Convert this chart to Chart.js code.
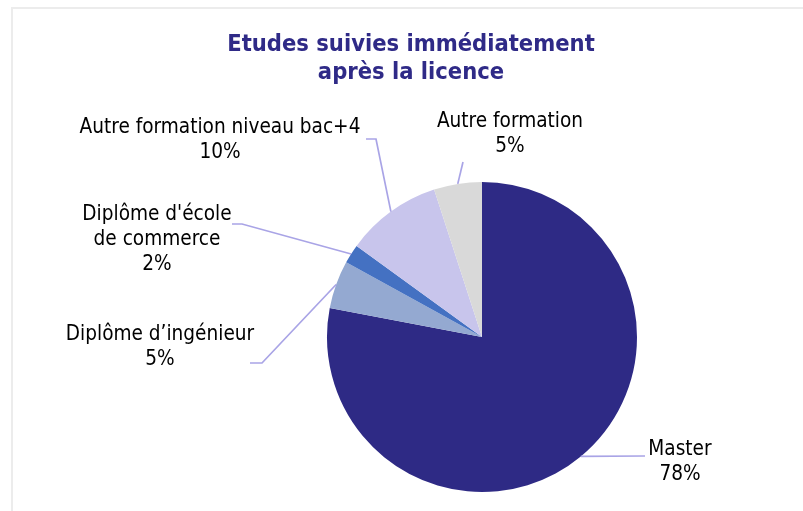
<!DOCTYPE html>
<html lang="fr">
  <head>
    <meta charset="UTF-8" />
    <script src="https://cdn.jsdelivr.net/npm/chart.js"></script>
    <style>
      body {
        margin: 0;
        padding: 0;
        background-color: #ffffff;
      }
      #chart {
        display: block;
      }
    </style>
  </head>
  <body>
    <canvas id="chart" width="803" height="511"></canvas>

    <script>
      const titleLines = ["Etudes suivies immédiatement", "après la licence"];
      const categories = [
        "Master",
        "Diplôme d’ingénieur",
        "Diplôme d'école de commerce",
        "Autre formation niveau bac+4",
        "Autre formation"
      ];
      const shares = [78, 5, 2, 10, 5];
      const sliceColors = ["#2e2a85", "#94a9d1", "#4471c2", "#c8c5ec", "#d9d9d9"];

      // how each label is broken into lines on the chart
      const labelLines = [
        ["Master"],
        ["Diplôme d’ingénieur"],
        ["Diplôme d'école", "de commerce"],
        ["Autre formation niveau bac+4"],
        ["Autre formation"]
      ];

      // label anchor (centre of first line) and leader-line bends
      const labelLayout = [
        { x: 680, y: 450, path: [[645, 456]] },
        { x: 160, y: 335, path: [[262, 363], [250, 363]] },
        { x: 157, y: 215, path: [[242, 224], [232, 224]] },
        { x: 220, y: 128, path: [[376, 139], [366, 139]] },
        { x: 510, y: 122, path: [[463, 162]] }
      ];

      const labelFont = '20.6px "DejaVu Sans Condensed", "DejaVu Sans", sans-serif';
      const titleFont = 'bold 23.5px "DejaVu Sans Condensed", "DejaVu Sans", sans-serif';

      const frameAndLabels = {
        id: "frameAndLabels",
        beforeDraw(chart) {
          const ctx = chart.ctx;
          ctx.save();
          ctx.fillStyle = "#ffffff";
          ctx.fillRect(0, 0, chart.width, chart.height);
          ctx.strokeStyle = "#ececec";
          ctx.lineWidth = 2;
          ctx.beginPath();
          ctx.moveTo(12, chart.height);
          ctx.lineTo(12, 8);
          ctx.lineTo(chart.width, 8);
          ctx.stroke();
          ctx.restore();
        },
        afterDraw(chart) {
          const ctx = chart.ctx;
          const meta = chart.getDatasetMeta(0);
          ctx.save();

          // title
          ctx.fillStyle = "#2f2a87";
          ctx.font = titleFont;
          ctx.textAlign = "center";
          ctx.textBaseline = "middle";
          titleLines.forEach((t, i) => ctx.fillText(t, 411, 45 + i * 28));

          meta.data.forEach((arc, i) => {
            const p = arc.getProps(["x", "y", "startAngle", "endAngle", "outerRadius"], true);
            const mid = (p.startAngle + p.endAngle) / 2;
            const sx = p.x + Math.cos(mid) * p.outerRadius;
            const sy = p.y + Math.sin(mid) * p.outerRadius;
            const lay = labelLayout[i];

            ctx.strokeStyle = "#a9a4e6";
            ctx.lineWidth = 1.7;
            ctx.beginPath();
            ctx.moveTo(sx, sy);
            lay.path.forEach(pt => ctx.lineTo(pt[0], pt[1]));
            ctx.stroke();

            const lines = labelLines[i].concat([shares[i] + "%"]);
            ctx.fillStyle = "#000000";
            ctx.font = labelFont;
            lines.forEach((t, j) => ctx.fillText(t, lay.x, lay.y + j * 25));
          });
          ctx.restore();
        }
      };

      new Chart(document.getElementById("chart"), {
        type: "pie",
        data: {
          labels: categories,
          datasets: [{
            data: shares,
            backgroundColor: sliceColors,
            borderWidth: 0
          }]
        },
        options: {
          responsive: false,
          animation: false,
          layout: {
            padding: { left: 327, right: 166, top: 182, bottom: 19 }
          },
          plugins: {
            legend: { display: false },
            tooltip: { enabled: false },
            title: { display: false }
          }
        },
        plugins: [frameAndLabels]
      });
    </script>
  </body>
</html>
